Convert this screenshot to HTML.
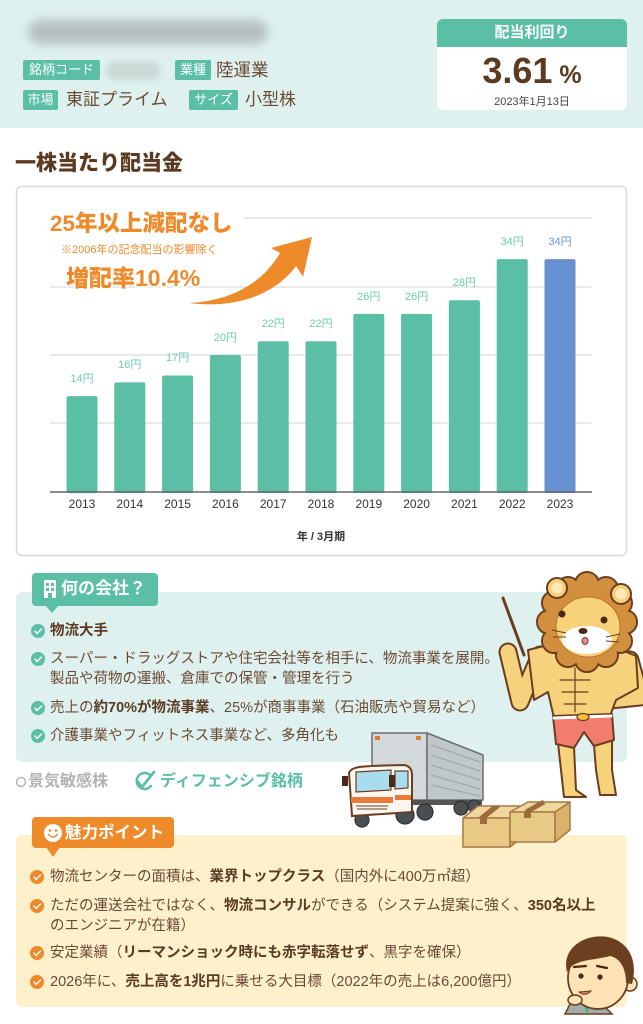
<!DOCTYPE html>
<html><head><meta charset="utf-8">
<style>
*{margin:0;padding:0;box-sizing:border-box}
body{width:643px;height:1024px;overflow:hidden;background:#fff;position:relative;font-family:"Liberation Sans","Noto Sans CJK JP",sans-serif;color:#6b4a35}
.a{position:absolute;white-space:nowrap}
.tag{position:absolute;height:20px;line-height:20px;background:#5bbfa6;color:#fff;font-size:13px;text-align:center;border-radius:2px;white-space:nowrap}
.val{position:absolute;font-size:17px;line-height:20px;color:#6b4a35;white-space:nowrap}
.li{position:absolute;left:50px;font-size:14.5px;line-height:20px;white-space:nowrap;color:#6b4a35}
.li b{color:#5a3a22;font-weight:700}
svg{position:absolute;left:0;top:0}
</style></head><body>

<!-- backgrounds -->
<div class="a" style="left:0;top:0;width:643px;height:128px;background:#dff1ef"></div>
<div class="a" style="left:16px;top:592px;width:611px;height:170px;background:#def1ee;border-radius:6px"></div>
<div class="a" style="left:16px;top:835px;width:611px;height:172px;background:#fdf0cb;border-radius:6px"></div>

<!-- blurred name / code -->
<div class="a" style="left:28px;top:20px;width:240px;height:24px;border-radius:12px;background:#b5c0be;filter:blur(5px)"></div>
<div class="a" style="left:106px;top:61px;width:55px;height:19px;border-radius:9px;background:#cbd9d7;filter:blur(3px)"></div>

<!-- header tags -->
<div class="tag" style="left:23px;top:60px;width:77px">銘柄コード</div>
<div class="tag" style="left:175px;top:60px;width:36px">業種</div>
<div class="val" style="left:216px;top:60px;font-size:17.5px">陸運業</div>
<div class="tag" style="left:23px;top:90px;width:35px">市場</div>
<div class="val" style="left:66px;top:90px">東証プライム</div>
<div class="tag" style="left:189px;top:90px;width:49px">サイズ</div>
<div class="val" style="left:245px;top:90px">小型株</div>

<!-- yield box -->
<div class="a" style="left:437px;top:19px;width:190px;height:91px;background:#fff;border-radius:6px;overflow:hidden">
 <div style="height:28px;background:#5bbfa6;color:#fff;font-weight:700;font-size:15px;line-height:28px;text-align:center">配当利回り</div>
 <div style="text-align:center;font-weight:700;color:#5c3a22;font-size:36px;line-height:40px;margin-top:4px">3.61<span style="font-size:25px"> %</span></div>
 <div style="text-align:center;font-size:11px;color:#444;line-height:14px">2023年1月13日</div>
</div>

<!-- title -->
<div class="a" style="left:15px;top:150px;font-size:21px;font-weight:900;color:#5a3a20;line-height:28px">一株当たり配当金</div>

<svg width="643" height="1024" viewBox="0 0 643 1024" font-family="Liberation Sans, Noto Sans CJK JP, sans-serif">
 <!-- chart box -->
 <rect x="16.5" y="186.5" width="610" height="369" rx="5" fill="#fff" stroke="#d9d9d9" stroke-width="1.5"/>
 <g stroke="#e2e2e2" stroke-width="1.5">
  <line x1="50" y1="218" x2="592" y2="218"/>
  <line x1="50" y1="287" x2="592" y2="287"/>
  <line x1="50" y1="355" x2="592" y2="355"/>
  <line x1="50" y1="423" x2="592" y2="423"/>
 </g>
 <rect x="48" y="208" width="196" height="26" fill="#fff"/>
 <!-- bars -->
 <g fill="#5bbfa6">
  <rect x="66.5" y="396.1" width="31" height="97" rx="2"/>
  <rect x="114.3" y="382.4" width="31" height="110.6" rx="2"/>
  <rect x="162.1" y="375.55" width="31" height="117.5" rx="2"/>
  <rect x="209.9" y="355" width="31" height="138" rx="2"/>
  <rect x="257.7" y="341.3" width="31" height="151.7" rx="2"/>
  <rect x="305.5" y="341.3" width="31" height="151.7" rx="2"/>
  <rect x="353.3" y="313.9" width="31" height="179.1" rx="2"/>
  <rect x="401.1" y="313.9" width="31" height="179.1" rx="2"/>
  <rect x="448.9" y="300.2" width="31" height="192.8" rx="2"/>
  <rect x="496.7" y="259.1" width="31" height="233.9" rx="2"/>
 </g>
 <rect x="544.5" y="259.1" width="31" height="233.9" rx="2" fill="#6790d0"/>
 <line x1="50" y1="492" x2="592" y2="492" stroke="#666" stroke-width="1.5"/>
 <g font-size="11" fill="#6fcbb0" text-anchor="middle">
  <text x="82" y="382">14円</text>
  <text x="129.8" y="368">16円</text>
  <text x="177.6" y="361">17円</text>
  <text x="225.4" y="341">20円</text>
  <text x="273.2" y="327">22円</text>
  <text x="321" y="327">22円</text>
  <text x="368.8" y="300">26円</text>
  <text x="416.6" y="300">26円</text>
  <text x="464.4" y="286">28円</text>
  <text x="512.2" y="245">34円</text>
  <text x="560" y="245" fill="#6d95d2">34円</text>
 </g>
 <g font-size="12" fill="#333" text-anchor="middle">
  <text x="82" y="508">2013</text>
  <text x="129.8" y="508">2014</text>
  <text x="177.6" y="508">2015</text>
  <text x="225.4" y="508">2016</text>
  <text x="273.2" y="508">2017</text>
  <text x="321" y="508">2018</text>
  <text x="368.8" y="508">2019</text>
  <text x="416.6" y="508">2020</text>
  <text x="464.4" y="508">2021</text>
  <text x="512.2" y="508">2022</text>
  <text x="560" y="508">2023</text>
 </g>
 <text x="321" y="540" font-size="11" font-weight="700" fill="#333" text-anchor="middle">年 / 3月期</text>

 <!-- annotation -->
 <text x="50" y="231" font-size="22.5" font-weight="900" fill="#ee8a2a">25年以上減配なし</text>
 <text x="61" y="253" font-size="11" fill="#ee8a2a">※2006年の記念配当の影響除く</text>
 <text x="66" y="286" font-size="23" font-weight="900" fill="#ee8a2a" stroke="#fff" stroke-width="3" paint-order="stroke">増配率10.4%</text>
 <path d="M189,303 C230,301 262,284 280,253 L271,248 L312,237 L303,277 L296,266 C275,295 235,309 189,303 Z" fill="#ee8a2a"/>

 <!-- tab 1 -->
 <rect x="32" y="573" width="126" height="33" rx="4" fill="#5bbfa6"/>
 <path d="M45,605 L52,613 L59,605 Z" fill="#5bbfa6"/>
 <rect x="44" y="580" width="12" height="18" fill="#fff"/>
 <g fill="#5bbfa6"><rect x="46" y="583" width="3" height="3"/><rect x="51" y="583" width="3" height="3"/><rect x="46" y="588" width="3" height="3"/><rect x="51" y="588" width="3" height="3"/><rect x="48" y="593" width="4" height="5"/></g>

 <!-- teal checks -->
 <g>
  <circle cx="38" cy="631" r="7" fill="#5bbfa6"/>
  <circle cx="38" cy="659" r="7" fill="#5bbfa6"/>
  <circle cx="38" cy="708" r="7" fill="#5bbfa6"/>
  <circle cx="38" cy="736" r="7" fill="#5bbfa6"/>
 </g>
 <g stroke="#fff" stroke-width="1.5" fill="none" stroke-linecap="round" stroke-linejoin="round">
  <path d="M35,631 L37,633.5 L41.5,629"/>
  <path d="M35,659 L37,661.5 L41.5,657"/>
  <path d="M35,708 L37,710.5 L41.5,706"/>
  <path d="M35,736 L37,738.5 L41.5,734"/>
 </g>

 <!-- sensitivity markers -->
 <circle cx="21" cy="782" r="4.5" fill="none" stroke="#aaa" stroke-width="1.3"/>
 <path d="M150,775 A8,8 0 1 0 151,786" fill="none" stroke="#5bbfa6" stroke-width="2.5" stroke-linecap="round"/>
 <path d="M137,781 L142,787 L154,772" fill="none" stroke="#5bbfa6" stroke-width="2.8" stroke-linecap="round" stroke-linejoin="round"/>

 <!-- lion -->
 <g stroke="#6b3d1f" stroke-width="2" stroke-linejoin="round" stroke-linecap="round">
  <line x1="503" y1="598" x2="524" y2="655" stroke-width="3"/>
  <polyline points="540,655 520,702 508,652" fill="none" stroke="#6b3d1f" stroke-width="19"/>
  <polyline points="540,655 520,702 508,652" fill="none" stroke="#f6d27c" stroke-width="15"/>
  <polyline points="630,660 640,697 610,700" fill="none" stroke="#6b3d1f" stroke-width="19"/>
  <polyline points="630,660 640,697 610,700" fill="none" stroke="#f6d27c" stroke-width="15"/>
  <path d="M528,650 L560,642 L588,655 L612,646 L636,656 L638,688 L616,700 L610,716 L554,718 L548,692 L534,700 Z" fill="#f6d27c"/>
  <path d="M575,668 L575,712 M560,680 L590,680 M562,692 L588,692 M564,704 L586,704" fill="none" stroke-width="1.2"/>
  <path d="M558,743 L574,747 L576,790 L586,797 L564,797 L561,770 Z" fill="#f6d27c"/>
  <path d="M594,745 L612,740 L612,770 L616,795 L600,795 L596,770 Z" fill="#f6d27c"/>
  <path d="M553,716 L612,714 L614,740 L594,746 L584,732 L574,748 L556,744 Z" fill="#f27d6c"/>
  <line x1="554" y1="718" x2="611" y2="716" stroke="#fff" stroke-width="3"/>
  <ellipse cx="583" cy="717" rx="6" ry="3.5" fill="#f3c13a" stroke-width="1.2"/>
  <!-- mane outline -->
  <g fill="#d2903f">
   <circle cx="587" cy="622" r="40"/>
   <circle cx="625" cy="622" r="12"/><circle cx="620" cy="641" r="12"/><circle cx="606" cy="655" r="12"/>
   <circle cx="587" cy="660" r="12"/><circle cx="568" cy="655" r="12"/><circle cx="554" cy="641" r="12"/>
   <circle cx="549" cy="622" r="12"/><circle cx="554" cy="603" r="12"/><circle cx="568" cy="589" r="12"/>
   <circle cx="587" cy="584" r="12"/><circle cx="606" cy="589" r="12"/><circle cx="620" cy="603" r="12"/>
  </g>
 </g>
 <g fill="#d2903f">
  <circle cx="587" cy="622" r="40"/>
  <circle cx="625" cy="622" r="11"/><circle cx="620" cy="641" r="11"/><circle cx="606" cy="655" r="11"/>
  <circle cx="587" cy="660" r="11"/><circle cx="568" cy="655" r="11"/><circle cx="554" cy="641" r="11"/>
  <circle cx="549" cy="622" r="11"/><circle cx="554" cy="603" r="11"/><circle cx="568" cy="589" r="11"/>
  <circle cx="587" cy="584" r="11"/><circle cx="606" cy="589" r="11"/><circle cx="620" cy="603" r="11"/>
 </g>
 <g stroke="#6b3d1f" stroke-width="2">
  <circle cx="557" cy="588" r="10" fill="#f6d07a"/>
  <circle cx="621" cy="594" r="10" fill="#f6d07a"/>
 </g>
 <circle cx="557" cy="588" r="5.5" fill="#fce8b8"/>
 <circle cx="621" cy="594" r="5.5" fill="#fce8b8"/>
 <ellipse cx="588" cy="627" rx="32" ry="30" fill="#f7d27a" stroke="#b8742e" stroke-width="1"/>
 <ellipse cx="587" cy="640" rx="25" ry="14" fill="#fff"/>
 <circle cx="562" cy="614" r="3.5" fill="#4a2a15"/>
 <circle cx="604" cy="620" r="3.5" fill="#4a2a15"/>
 <ellipse cx="583" cy="631" rx="4.5" ry="3" fill="#4a2a15"/>
 <ellipse cx="585" cy="641" rx="3" ry="3.5" fill="#f08a8a" stroke="#6b3d1f" stroke-width="1"/>
 <g stroke="#6b3d1f" stroke-width="1" fill="none">
  <path d="M552,630 L566,633 M553,637 L566,637 M606,637 L620,634 M606,641 L619,642"/>
 </g>

 <!-- truck -->
 <g stroke="#6b6f70" stroke-width="1.5" stroke-linejoin="round">
  <rect x="372" y="733" width="55" height="67" fill="#d3d9da"/>
  <path d="M427,733 L483,755 L483,800 L427,800 Z" fill="#bfc7c9"/>
  <path d="M431,745 L480,762 M431,755 L480,771 M431,765 L480,780 M431,775 L480,789 M431,785 L480,796" stroke="#9aa3a5" stroke-width="1" fill="none"/>
 </g>
 <rect x="375" y="736" width="5" height="4" fill="#e0782e"/>
 <rect x="416" y="736" width="5" height="4" fill="#e0782e"/>
 <rect x="410" y="800" width="72" height="5" fill="#555"/>
 <g fill="#4a4f52" stroke="#2e3234" stroke-width="1.2">
  <circle cx="405" cy="815" r="9"/><circle cx="425" cy="812" r="8"/><circle cx="461" cy="808" r="7"/><circle cx="474" cy="806" r="6"/>
  <circle cx="362" cy="820" r="7"/>
 </g>
 <path d="M349,773 C352,766 360,766 404,765 C410,766 412,770 412,775 L412,812 L352,816 Z" fill="#fbf6ef" stroke="#6b3d1f" stroke-width="2"/>
 <path d="M356,772 L391,770 L391,790 L356,792 Z" fill="#a9dcef" stroke="#6b3d1f" stroke-width="1.2"/>
 <path d="M395,771 L408,771 L408,788 L395,789 Z" fill="#a9dcef" stroke="#6b3d1f" stroke-width="1.2"/>
 <rect x="351" y="797" width="42" height="6" fill="#ea7a3a"/>
 <rect x="395" y="795" width="16" height="5" fill="#ea7a3a"/>
 <path d="M356,806 L388,806 M357,809 L387,809" stroke="#6b3d1f" stroke-width="1"/>
 <rect x="342" y="776" width="6" height="10" fill="#4a2a15"/>
 <rect x="389" y="775" width="6" height="12" fill="#4a2a15"/>

 <!-- boxes -->
 <g stroke="#a57a45" stroke-width="1.5" stroke-linejoin="round">
  <path d="M463,818 L478,806 L525,806 L510,818 Z" fill="#efd79e"/>
  <rect x="463" y="818" width="47" height="29" fill="#e8c985"/>
  <path d="M510,818 L525,806 L525,835 L510,847 Z" fill="#d9b26b"/>
  <path d="M510,812 L528,802 L570,802 L555,812 Z" fill="#efd79e"/>
  <rect x="510" y="812" width="45" height="30" fill="#e8c985"/>
  <path d="M555,812 L570,802 L570,830 L555,842 Z" fill="#d9b26b"/>
 </g>
 <path d="M480,818 L495,806 M484,818 L499,806" stroke="#9c6c3c" stroke-width="3"/>
 <rect x="480" y="818" width="7" height="6" fill="#9c6c3c"/>
 <path d="M526,812 L544,802" stroke="#9c6c3c" stroke-width="5"/>
 <rect x="524" y="812" width="7" height="6" fill="#9c6c3c"/>

 <!-- tab 2 -->
 <rect x="32" y="817" width="142" height="31" rx="4" fill="#ee8a2a"/>
 <path d="M46,847 L53,857 L60,847 Z" fill="#ee8a2a"/>
 <circle cx="53" cy="833" r="9" fill="#fff"/>
 <circle cx="50" cy="830.5" r="1.3" fill="#ee8a2a"/>
 <circle cx="56" cy="830.5" r="1.3" fill="#ee8a2a"/>
 <path d="M48.5,834.5 Q53,839.5 57.5,834.5" fill="none" stroke="#ee8a2a" stroke-width="1.4" stroke-linecap="round"/>

 <!-- orange checks -->
 <g fill="#ee8a2a">
  <circle cx="37" cy="877" r="7"/><circle cx="37" cy="906" r="7"/><circle cx="37" cy="953" r="7"/><circle cx="37" cy="982" r="7"/>
 </g>
 <g stroke="#fff" stroke-width="1.4" fill="none" stroke-linecap="round" stroke-linejoin="round">
  <path d="M34,877 L36,879.5 L40.5,875"/>
  <path d="M34,906 L36,908.5 L40.5,904"/>
  <path d="M34,953 L36,955.5 L40.5,951"/>
  <path d="M34,982 L36,984.5 L40.5,980"/>
 </g>

 <!-- man -->
 <path d="M565,1014 L572,1000 L600,1002 L612,1014 Z" fill="#a2acab" stroke="#6b3f1f" stroke-width="1.5"/>
 <path d="M583,1003 L587,1014 L591,1003 Z" fill="#4fae7e"/>
 <circle cx="630" cy="984" r="7" fill="#fde3b6" stroke="#6b3f1f" stroke-width="1.5"/>
 <ellipse cx="598" cy="978" rx="30" ry="31" fill="#fde3b6" stroke="#6b3f1f" stroke-width="1.8"/>
 <path d="M567,972 C561,948 585,933 608,937 C630,942 638,962 632,984 L626,983 C626,968 620,958 610,956 C596,960 582,959 572,966 Z" fill="#6b3f1f"/>
 <path d="M574,967 L586,966 M597,966 L607,968" stroke="#4a2a15" stroke-width="2.2" stroke-linecap="round"/>
 <circle cx="581" cy="976" r="2.6" fill="#4a2a15"/>
 <circle cx="600" cy="977" r="2.6" fill="#4a2a15"/>
 <path d="M579,992 Q585,997 591,991 Z" fill="#e87a6a" stroke="#6b3f1f" stroke-width="1"/>
 <ellipse cx="575" cy="1000" rx="7" ry="5" fill="#fde3b6" stroke="#6b3f1f" stroke-width="1.5"/>
</svg>

<!-- tab texts -->
<div class="a" style="left:61px;top:578px;font-size:17px;font-weight:700;color:#fff;line-height:22px">何の会社？</div>
<div class="a" style="left:65px;top:822px;font-size:16.5px;font-weight:700;color:#fff;line-height:22px">魅力ポイント</div>

<!-- company items -->
<div class="li" style="top:621px"><b>物流大手</b></div>
<div class="li" style="top:649px">スーパー・ドラッグストアや住宅会社等を相手に、物流事業を展開。<br>製品や荷物の運搬、倉庫での保管・管理を行う</div>
<div class="li" style="top:698px">売上の<b>約70%が物流事業</b>、25%が商事事業（石油販売や貿易など）</div>
<div class="li" style="top:726px">介護事業やフィットネス事業など、多角化も</div>

<div class="a" style="left:28px;top:772px;font-size:16px;font-weight:700;color:#b3b3b3;line-height:20px">景気敏感株</div>
<div class="a" style="left:160px;top:772px;font-size:16px;font-weight:700;color:#5bbfa6;line-height:20px">ディフェンシブ銘柄</div>

<!-- appeal items -->
<div class="li" style="top:867px">物流センターの面積は、<b>業界トップクラス</b>（国内外に400万㎡超）</div>
<div class="li" style="top:896px">ただの運送会社ではなく、<b>物流コンサル</b>ができる（システム提案に強く、<b>350名以上</b><br>のエンジニアが在籍）</div>
<div class="li" style="top:943px">安定業績（<b>リーマンショック時にも赤字転落せず</b>、黒字を確保）</div>
<div class="li" style="top:972px">2026年に、<b>売上高を1兆円</b>に乗せる大目標（2022年の売上は6,200億円）</div>

</body></html>
